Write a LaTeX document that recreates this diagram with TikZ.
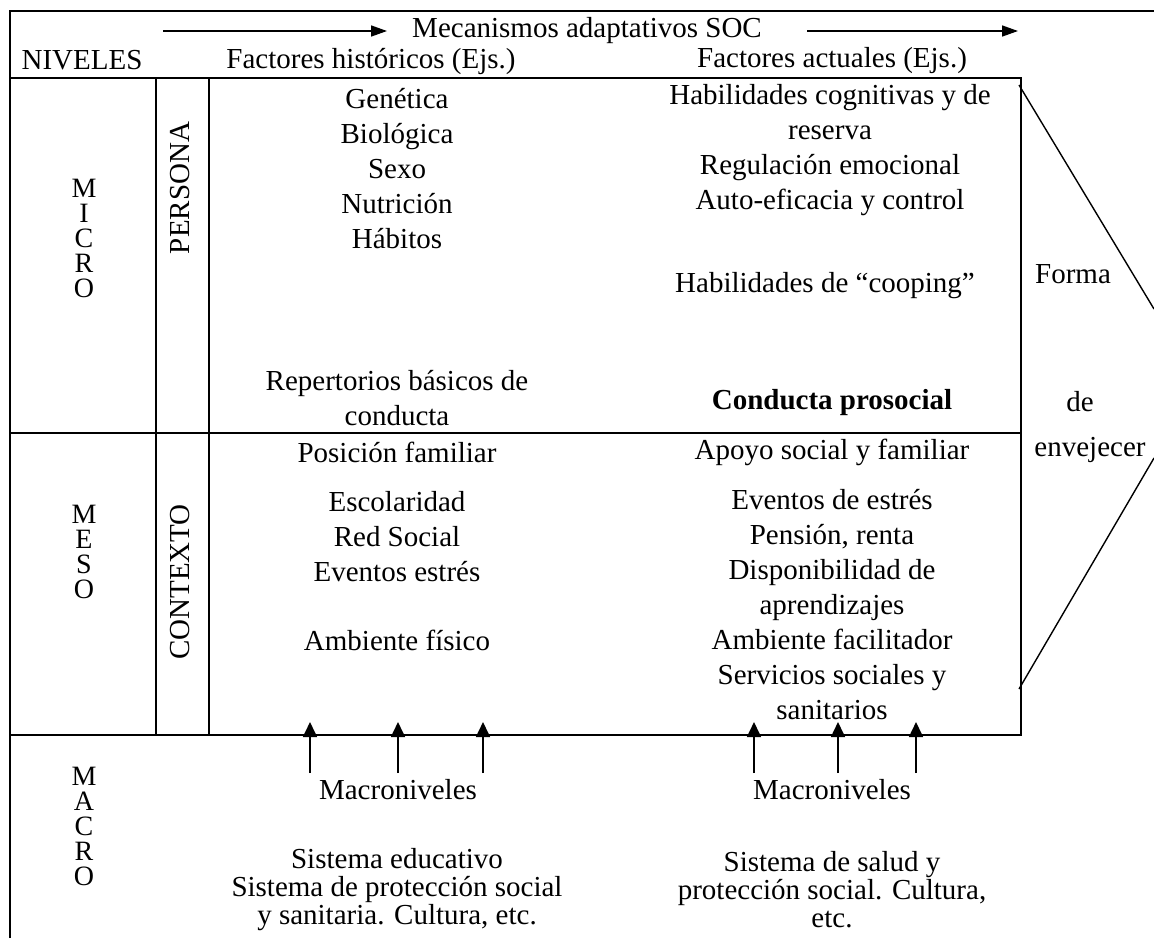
\documentclass[tikz,border=0pt]{standalone}
\usepackage{fontspec}
\setmainfont{Liberation Serif}
\usetikzlibrary{arrows.meta}
\usetikzlibrary{calc}
\usetikzlibrary{positioning}

\begin{document}
\begin{tikzpicture}
[
	x				= 0.5pt,
	y				= -0.5pt,
	Label/.style	= {font = \fontsize{14.5}{17.5}\selectfont, align = center, inner sep = 0pt},
	Tight/.style	= {font = \fontsize{14.5}{14}\selectfont, align = center, inner sep = 0pt},
	Stack/.style	= {font = \fontsize{14}{12.5}\selectfont, align = center, inner sep = 0pt},
	Band/.style		= {Label, rotate = 90},
	Rule/.style		= {line width = 1.2pt},
	Slant/.style	= {line width = 0.7pt},
	Flow/.style		= {line width = 0.8pt, -{Triangle[length = 8pt, width = 5.5pt]}},
	Rise/.style		= {line width = 0.8pt, -{Triangle[length = 7.5pt, width = 7pt]}},
]

	\useasboundingbox (0,0) rectangle (1154,938);

	% frame and table
	\coordinate (F1) at (10,11);
	\coordinate (F2) at (1154,11);
	\coordinate (F3) at (10,938);
	\coordinate (T1) at (10,78);
	\coordinate (T2) at (1021,78);
	\coordinate (T3) at (10,433);
	\coordinate (T4) at (1021,433);
	\coordinate (T5) at (10,735);
	\coordinate (T6) at (1021,735);
	\coordinate (V1) at (156,78);
	\coordinate (V2) at (156,735);
	\coordinate (V3) at (209,78);
	\coordinate (V4) at (209,735);

	\draw [Rule] (F3) -- (F1) -- (F2);
	\draw [Rule] (T1) -- (T2) -- (T6) -- (T5);
	\draw [Rule] (T3) -- (T4);
	\draw [Rule] (V1) -- (V2);
	\draw [Rule] (V3) -- (V4);

	% header
	\node (soc) [Label] at (587,31) {Mecanismos adaptativos SOC};
	\node (niv) [Label] at (82,60) {NIVELES};
	\node (hist) [Label] at (371,61) {Factores históricos (Ejs.)};
	\node (act) [Label] at (832,61) {Factores actuales (Ejs.)};

	\coordinate (socA) at (163,31);
	\coordinate (socB) at (387,31);
	\coordinate (socC) at (807,31);
	\coordinate (socD) at (1018,31);
	\draw [Flow] (socA) -- (socB);
	\draw [Flow] (socC) -- (socD);

	% levels
	\node (micro) [Stack] at (84,238) {M\\I\\C\\R\\O};
	\node (meso) [Stack] at (84,552) {M\\E\\S\\O};
	\node (macro) [Stack] at (84,826) {M\\A\\C\\R\\O};
	\node (pers) [Band] at (180,188) {PERSONA};
	\node (ctx) [Band] at (180,582) {CONTEXTO};

	% micro
	\node (h1) [Label] at (397,169) {Genética\\Biológica\\Sexo\\Nutrición\\Hábitos};
	\node (h2) [Label] at (397,398) {Repertorios básicos de\\conducta};
	\node (a1) [Label] at (830,150) {Habilidades cognitivas y de\\reserva\\Regulación emocional\\Auto-eficacia y control};
	\node (a2) [Label] at (825,286) {Habilidades de “cooping”};
	\node (a3) [Label, font = \fontsize{14.5}{17.5}\selectfont\bfseries] at (832,403) {Conducta prosocial};
	%
	% meso
	\node (h3) [Label] at (397,452) {Posición familiar};
	\node (h4) [Label] at (397,537) {Escolaridad\\Red Social\\Eventos estrés};
	\node (h5) [Label] at (397,640) {Ambiente físico};
	\node (a4) [Label] at (832,452) {Apoyo social y familiar};
	\node (a5) [Label] at (832,605) {Eventos de estrés\\Pensión, renta\\Disponibilidad de\\aprendizajes\\Ambiente facilitador\\Servicios sociales y\\sanitarios};
	%
	% macro
	\node (mh) [Label] at (398,790) {Macroniveles};
	\node (ma) [Label] at (832,790) {Macroniveles};
	\node (sh) [Tight] at (397,890) {Sistema educativo\\Sistema de protección social\\y sanitaria. Cultura, etc.};
	\node (sa) [Tight] at (832,890) {Sistema de salud y\\protección social. Cultura,\\etc.};

	\foreach \x [count = \i] in {310, 398, 483, 754, 838, 916}
	{
		\coordinate (low\i) at (\x,773);
		\coordinate (high\i) at (\x,722);
		\draw [Rise] (low\i) -- (high\i);
	}

	% forma de envejecer
	\node (forma) [Label] at (1073,274) {Forma};
	\node (de) [Label] at (1080,402) {de};
	\node (env) [Label] at (1090,450) {envejecer};

	\coordinate (chevA) at (1019,85);
	\coordinate (chevB) at (1154,309);
	\coordinate (chevC) at (1154,458);
	\coordinate (chevD) at (1019,689);
	\draw [Slant] (chevA) -- (chevB);
	\draw [Slant] (chevD) -- (chevC);

\end{tikzpicture}
\end{document}
